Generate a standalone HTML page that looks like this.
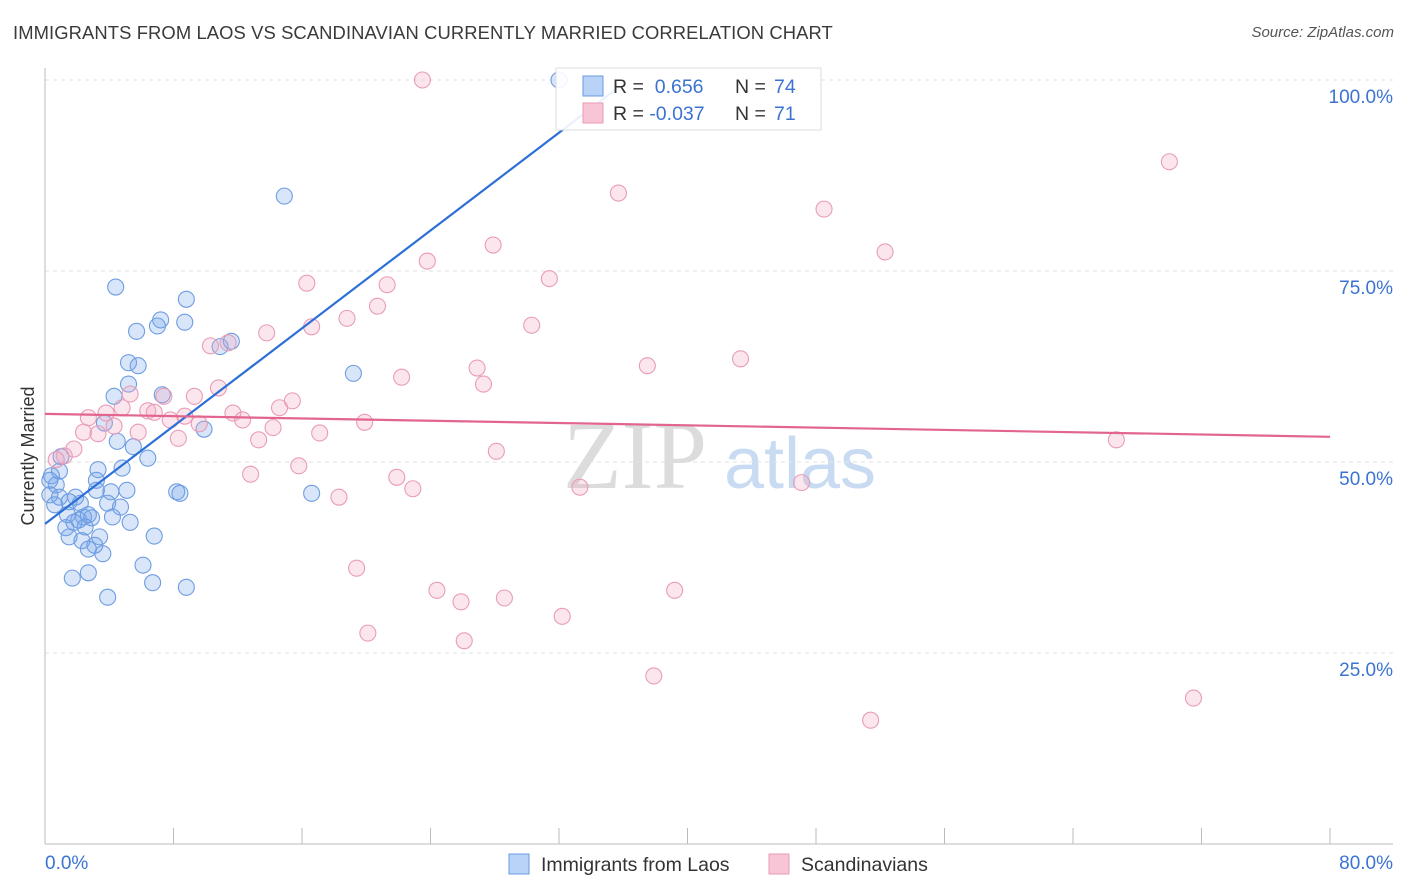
<!DOCTYPE html>
<html><head><meta charset="utf-8">
<style>
body{margin:0;background:#fff;font-family:"Liberation Sans",sans-serif;}
#wrap{position:relative;width:1406px;height:892px;overflow:hidden;}
.title{position:absolute;left:13px;top:22px;font-size:18.4px;color:#3a3a3a;letter-spacing:0.1px;}
.source{position:absolute;right:12px;top:24px;font-size:15px;color:#555;font-style:italic;}
</style></head><body>
<div id="wrap">
<div class="title">IMMIGRANTS FROM LAOS VS SCANDINAVIAN CURRENTLY MARRIED CORRELATION CHART</div>
<div class="source">Source: ZipAtlas.com</div>
<svg id="svg" width="1406" height="892" style="position:absolute;left:0;top:0"></svg>
</div>
<script>
const blueX=[32.0,14.9,4.4,8.8,7.2,8.7,7.0,5.7,11.6,10.9,5.2,5.8,19.2,5.2,4.3,7.3,3.7,9.9,4.5,5.5,6.4,1.0,3.3,4.8,0.9,0.4,3.2,0.7,3.2,5.1,8.2,8.4,16.6,4.1,0.3,0.9,1.9,1.5,0.6,3.9,4.7,2.2,1.4,2.4,2.7,2.1,1.8,2.9,4.2,5.3,1.3,2.5,1.5,3.4,6.8,2.3,3.1,2.7,3.6,6.1,2.7,1.7,6.7,8.8,3.9,0.3];
const blueY=[100,84.8,72.9,71.3,68.6,68.3,67.8,67.1,65.8,65.1,63.0,62.6,61.6,60.2,58.6,58.8,55.1,54.3,52.7,52.0,50.5,50.7,49.0,49.2,48.8,48.2,47.6,47.0,46.3,46.3,46.1,45.9,45.9,46.1,45.7,45.4,45.4,44.8,44.4,44.6,44.1,44.6,43.1,42.8,43.1,42.4,42.1,42.7,42.8,42.1,41.4,41.5,40.2,40.2,40.3,39.7,39.1,38.6,38.0,36.5,35.5,34.8,34.2,33.6,32.3,47.6];
const pinkX=[23.5,70.0,35.7,48.5,52.3,27.9,23.8,16.3,31.4,21.3,20.7,18.8,16.6,30.3,13.8,10.3,11.4,43.3,37.5,26.9,22.2,27.3,10.8,9.3,5.3,7.4,15.4,14.6,4.8,3.8,6.4,6.8,2.7,8.7,11.7,7.8,12.3,19.9,9.6,4.3,14.2,5.8,2.4,3.3,17.1,8.3,13.3,66.7,1.8,28.1,1.2,0.7,15.8,12.8,21.9,47.1,33.3,22.9,18.3,19.4,24.4,39.2,25.9,28.6,32.2,20.1,26.1,37.9,71.5,51.4];
const pinkY=[100,89.3,85.2,83.1,77.5,78.4,76.3,73.4,74.0,73.2,70.4,68.8,67.7,67.9,66.9,65.2,65.6,63.5,62.6,62.3,61.1,60.2,59.7,58.6,58.9,58.6,58.0,57.1,57.1,56.4,56.7,56.5,55.8,56.0,56.4,55.5,55.5,55.2,55.0,54.7,54.5,53.9,53.9,53.7,53.8,53.1,52.9,52.9,51.7,51.4,50.8,50.3,49.5,48.4,48.0,47.3,46.7,46.5,45.4,36.1,33.2,33.2,31.7,32.2,29.8,27.6,26.6,22.0,19.1,16.2];
const blueLine=[41.9,98.7];
const blueLineX=[0,35.5];
const pinkLine=[56.3,53.3];
const pinkLineX=[0,80];
const yTicks=[100,75,50,25];
const yTickLabels=["100.0%","75.0%","50.0%","25.0%"];

const NS="http://www.w3.org/2000/svg";
const svg=document.getElementById('svg');
const X0=45,X1=1330,Y0=844,Y100=80;
const sx=v=>X0+(X1-X0)*v/80;
const sy=v=>Y0-(Y0-Y100)*v/100;
function mk(t,a,parent){const e=document.createElementNS(NS,t);for(const k in a)e.setAttribute(k,a[k]);(parent||svg).appendChild(e);return e;}

let wm=mk('text',{x:635,y:488,'font-size':96,'font-family':'Liberation Serif,serif',fill:'#dcdcdc','text-anchor':'middle'});
wm.textContent='ZIP';


let wm2=mk('text',{x:800,y:488,'font-size':72,'font-family':'Liberation Sans,sans-serif',fill:'#c9dbf2','text-anchor':'middle'});
wm2.textContent='atlas';



yTicks.forEach((t,i)=>{
  const g=mk('line',{x1:X0,x2:1393,y1:sy(t),y2:sy(t),stroke:'#e2e2e2','stroke-dasharray':'4,4'});
  
  
  const l=mk('text',{x:1393,y:sy(t)+23,'font-size':19,fill:'#3b73d1','text-anchor':'end'});
  l.textContent=yTickLabels[i];
  
  
});
let ya=mk('line',{x1:X0,x2:X0,y1:68,y2:Y0,stroke:'#bbb'});


let xa=mk('line',{x1:X0,x2:1393,y1:Y0,y2:Y0,stroke:'#bbb'});


for(let i=0;i<=10;i++){
  const t=mk('line',{x1:sx(i*8),x2:sx(i*8),y1:Y0,y2:Y0-16,stroke:'#bbb'});
  
  
}
let xl0=mk('text',{x:45,y:869,'font-size':19,fill:'#3b73d1'});xl0.textContent='0.0%';


let xl1=mk('text',{x:1393,y:869,'font-size':19,fill:'#3b73d1','text-anchor':'end'});xl1.textContent='80.0%';


let yt=mk('text',{x:34,y:456,'font-size':18,fill:'#333','text-anchor':'middle',transform:'rotate(-90 34 456)'});
yt.textContent='Currently Married';



blueX.forEach((v,i)=>{
  const c=mk('circle',{cx:sx(v),cy:sy(blueY[i]),r:8,fill:'rgba(120,165,235,0.28)',stroke:'#6e9de2','stroke-width':1.1});
  
  
});
pinkX.forEach((v,i)=>{
  const c=mk('circle',{cx:sx(v),cy:sy(pinkY[i]),r:8,fill:'rgba(245,165,195,0.28)',stroke:'#e99cb8','stroke-width':1.1});
  
  
});
let bl=mk('line',{x1:sx(blueLineX[0]),y1:sy(blueLine[0]),x2:sx(blueLineX[1]),y2:sy(blueLine[1]),stroke:'#2c6fd6','stroke-width':2.2});


let pl=mk('line',{x1:sx(pinkLineX[0]),y1:sy(pinkLine[0]),x2:sx(pinkLineX[1]),y2:sy(pinkLine[1]),stroke:'#e2658f','stroke-width':2.2});



let lb=mk('rect',{x:556,y:68,width:265,height:62,fill:'rgba(255,255,255,0.9)',stroke:'#ddd'});


[[0,'#b8d3f7','#6a9ae0','0.656','74'],[1,'#f8c5d6','#e99ab5','-0.037','71']].forEach(r=>{
  const y=86+r[0]*27;
  const s=mk('rect',{x:583,y:y-10,width:20,height:20,fill:r[1],stroke:r[2]});
  
  
  const t=mk('text',{x:613,y:y+7,'font-size':19.5,fill:'#333'});
  t.innerHTML='R = <tspan fill="#3b73d1">'+(r[3].length<6?'&#160;':'')+r[3]+'</tspan><tspan x="735">N = </tspan><tspan fill="#3b73d1" x="774">'+r[4]+'</tspan>';
  
  
});
[[509,'#b8d3f7','#6a9ae0','Immigrants from Laos'],[769,'#f8c5d6','#e99ab5','Scandinavians']].forEach(r=>{
  const s=mk('rect',{x:r[0],y:854,width:20,height:20,fill:r[1],stroke:r[2]});
  
  
  const t=mk('text',{x:r[0]+32,y:871,'font-size':19.5,fill:'#333'});
  t.textContent=r[3];
  
  
});
</script>
</body></html>
